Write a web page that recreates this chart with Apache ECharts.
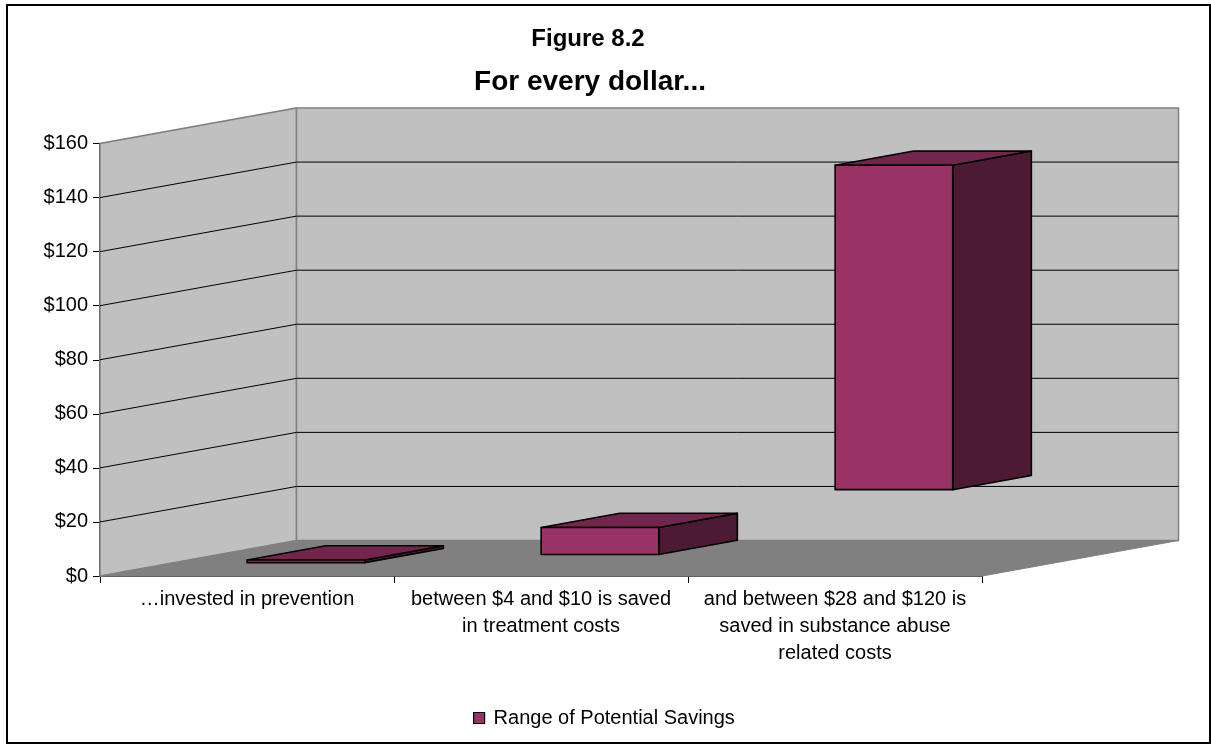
<!DOCTYPE html>
<html>
<head>
<meta charset="utf-8">
<script src="https://cdn.jsdelivr.net/npm/echarts@6/dist/echarts.min.js"></script>
<style>
  html, body { margin: 0; padding: 0; background: #ffffff; }
  #chart { width: 1211px; height: 744px; }
</style>
</head>
<body>
<div id="chart"></div>
<script>
// ---- data ----
const categories = [
  '\u2026invested in prevention',
  'between $4 and $10 is saved\nin treatment costs',
  'and between $28 and $120 is\nsaved in substance abuse\nrelated costs'
];
// floating columns: start of each range and its size
const rangeStart = [1, 4, 28];
const rangeSize = [1, 10, 120];
const seriesName = 'Range of Potential Savings';
// value axis ticks
const yMin = 0;
const yMax = 160;
const yStep = 20;

// ---- oblique 3D look ----
const DEPTH = { dx: 196.5, dy: -35.5 };   // offset from the front plane to the back wall
const BAR_WIDTH = 0.4;                    // share of a category band
const BAR_FRONT = 0.3, BAR_BACK = 0.7;    // depth span of the columns
const FONT = 'Liberation Sans, Arial, sans-serif';

const barData = categories.map((c, i) => [i, rangeStart[i], rangeStart[i] + rangeSize[i]]);

function renderWalls(params, api) {
  const cs = params.coordSys;
  const x0 = cs.x, x1 = cs.x + cs.width;
  const yTop = cs.y, yBot = cs.y + cs.height;
  const dx = DEPTH.dx, dy = DEPTH.dy;
  const children = [];
  // floor
  children.push({
    type: 'polygon',
    shape: { points: [[x0, yBot], [x1, yBot], [x1 + dx, yBot + dy], [x0 + dx, yBot + dy]] },
    style: { fill: '#808080', stroke: '#808080', lineWidth: 1 }
  });
  // side wall
  children.push({
    type: 'polygon',
    shape: { points: [[x0, yBot], [x0, yTop], [x0 + dx, yTop + dy], [x0 + dx, yBot + dy]] },
    style: { fill: '#c0c0c0', stroke: '#808080', lineWidth: 1.5 }
  });
  // back wall
  children.push({
    type: 'rect',
    shape: { x: x0 + dx, y: yTop + dy, width: cs.width, height: cs.height },
    style: { fill: '#c0c0c0', stroke: '#808080', lineWidth: 1.5 }
  });
  // gridlines on both walls
  for (let v = yMin + yStep; v < yMax; v += yStep) {
    const y = api.coord([0, v])[1];
    children.push({
      type: 'line',
      shape: { x1: x0, y1: y, x2: x0 + dx, y2: y + dy },
      style: { stroke: '#000000', lineWidth: 1 }
    });
    children.push({
      type: 'line',
      shape: { x1: x0 + dx, y1: y + dy, x2: x1 + dx, y2: y + dy },
      style: { stroke: '#000000', lineWidth: 1 }
    });
  }
  return { type: 'group', children: children };
}

function renderBar(params, api) {
  const cat = api.value(0);
  const lo = api.coord([cat, api.value(1)]);
  const hi = api.coord([cat, api.value(2)]);
  const band = api.size([1, 0])[0];
  const half = band * BAR_WIDTH / 2;
  const L = lo[0] - half, R = lo[0] + half;
  const fx = DEPTH.dx * BAR_FRONT, fy = DEPTH.dy * BAR_FRONT;
  const bx = DEPTH.dx * BAR_BACK, by = DEPTH.dy * BAR_BACK;
  const yt = hi[1], yb = lo[1];
  const edge = { stroke: '#000000', lineWidth: 1.6, lineJoin: 'round' };
  return {
    type: 'group',
    children: [
      {
        type: 'polygon',
        shape: { points: [[R + fx, yt + fy], [R + bx, yt + by], [R + bx, yb + by], [R + fx, yb + fy]] },
        style: Object.assign({ fill: '#4d1a33' }, edge)
      },
      {
        type: 'polygon',
        shape: { points: [[L + fx, yt + fy], [L + bx, yt + by], [R + bx, yt + by], [R + fx, yt + fy]] },
        style: Object.assign({ fill: '#73264d' }, edge)
      },
      {
        type: 'polygon',
        shape: { points: [[L + fx, yt + fy], [R + fx, yt + fy], [R + fx, yb + fy], [L + fx, yb + fy]] },
        style: Object.assign({ fill: '#993366' }, edge)
      }
    ]
  };
}

const chart = echarts.init(document.getElementById('chart'), null, { renderer: 'canvas' });

chart.setOption({
  backgroundColor: '#ffffff',
  animation: false,
  title: [
    {
      text: 'Figure 8.2',
      left: 588, top: 27, textAlign: 'center', padding: 0,
      textStyle: { fontFamily: FONT, fontSize: 24, fontWeight: 'bold', color: '#000000' }
    },
    {
      text: 'For every dollar...',
      left: 590, top: 68, textAlign: 'center', padding: 0,
      textStyle: { fontFamily: FONT, fontSize: 28, fontWeight: 'bold', color: '#000000' }
    }
  ],
  legend: {
    data: [seriesName],
    left: 473, top: 708,
    itemWidth: 11, itemHeight: 11, itemGap: 10,
    icon: 'rect',
    padding: 0,
    itemStyle: { borderColor: '#000000', borderWidth: 1.2 },
    textStyle: { fontFamily: FONT, fontSize: 20, color: '#000000', padding: [0, 0, 0, 4] }
  },
  grid: {
    left: 100, top: 143.5, width: 882, height: 432.5,
    containLabel: false, outerBoundsMode: 'none'
  },
  xAxis: {
    type: 'category',
    data: categories,
    axisLine: { show: true, lineStyle: { color: '#000000', width: 1.5 } },
    axisTick: { show: true, length: 7, lineStyle: { color: '#000000', width: 1 } },
    axisLabel: {
      interval: 0, margin: 10,
      fontFamily: FONT, fontSize: 20, lineHeight: 27, color: '#000000', align: 'center'
    },
    splitLine: { show: false }
  },
  yAxis: {
    type: 'value',
    min: yMin, max: yMax, interval: yStep,
    axisLine: { show: true, lineStyle: { color: '#000000', width: 1.5 } },
    axisTick: { show: true, length: 7, lineStyle: { color: '#000000', width: 1 } },
    axisLabel: {
      margin: 12, fontFamily: FONT, fontSize: 20, color: '#000000',
      formatter: v => '$' + v
    },
    splitLine: { show: false }
  },
  graphic: [
    {
      type: 'rect', silent: true, z: 100,
      shape: { x: 7, y: 5, width: 1203, height: 738 },
      style: { fill: 'none', stroke: '#000000', lineWidth: 2 }
    }
  ],
  series: [
    {
      type: 'custom',
      name: 'walls',
      silent: true,
      clip: false,
      z: 1,
      renderItem: renderWalls,
      data: [[0, 0]]
    },
    {
      type: 'custom',
      name: seriesName,
      clip: false,
      z: 5,
      itemStyle: { color: '#993366' },
      encode: { x: 0, y: [1, 2] },
      renderItem: renderBar,
      data: barData
    }
  ]
});
</script>
</body>
</html>
